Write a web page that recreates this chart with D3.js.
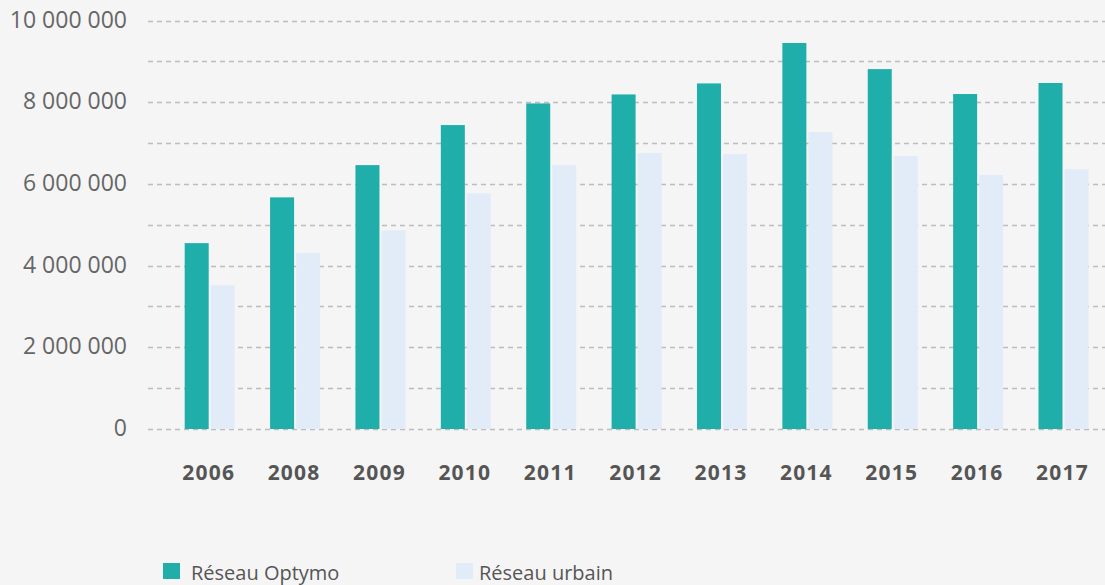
<!DOCTYPE html>
<html lang="fr">
<head>
<meta charset="utf-8">
<script src="https://cdn.jsdelivr.net/npm/d3@7"></script>
<style>
  html, body { margin: 0; padding: 0; background: #f5f5f5; }
  svg { display: block; font-family: "Open Sans", "Noto Sans", sans-serif; }
</style>
</head>
<body>
<svg id="chart" width="1105" height="585"></svg>
<script>
// Annual ridership, in trips
const years = ["2006", "2008", "2009", "2010", "2011", "2012", "2013", "2014", "2015", "2016", "2017"];
const optymo = [4550000, 5670000, 6460000, 7440000, 7970000, 8190000, 8460000, 9450000, 8810000, 8200000, 8470000];
const urbain = [3520000, 4310000, 4860000, 5770000, 6460000, 6760000, 6730000, 7270000, 6680000, 6220000, 6360000];
const seriesNames = ["Réseau Optymo", "Réseau urbain"];
const seriesColors = ["#20aeab", "#e2ecf8"];
const yTicks = [0, 2000000, 4000000, 6000000, 8000000, 10000000];
const yGrid = d3.range(0, 10000001, 1000000);

const svg = d3.select("#chart");

const x = d3.scaleBand().domain(years).range([167, 1106.2]).paddingInner(0).paddingOuter(0);
const y = d3.scaleLinear().domain([0, 10000000]).range([429, 20.5]);
const barW = 24, barGap = 2;

// gridlines
svg.append("g").selectAll("line").data(yGrid).join("line")
  .attr("x1", 148).attr("x2", 1105)
  .attr("y1", d => Math.round(y(d)) + 0.5).attr("y2", d => Math.round(y(d)) + 0.5)
  .attr("stroke", "#bdbdbd").attr("stroke-width", 1.5)
  .attr("stroke-dasharray", "5,4");

// y axis labels
const fmt = d => d3.format(",")(d).replace(/,/g, " ");
svg.append("g").selectAll("text").data(yTicks).join("text")
  .attr("x", 127).attr("y", d => y(d) - 1).attr("dy", "0.35em")
  .attr("text-anchor", "end")
  .attr("font-size", 23).attr("fill", "#666")
  .text(fmt);

// bars
const groups = svg.append("g").selectAll("g").data(years).join("g")
  .attr("transform", d => `translate(${x(d) + x.bandwidth() / 2},0)`);

groups.append("rect")
  .attr("x", -barW - barGap / 2).attr("width", barW)
  .attr("y", (d, i) => y(optymo[i])).attr("height", (d, i) => y(0) - y(optymo[i]))
  .attr("fill", seriesColors[0]);

groups.append("rect")
  .attr("x", barGap / 2).attr("width", barW)
  .attr("y", (d, i) => y(urbain[i])).attr("height", (d, i) => y(0) - y(urbain[i]))
  .attr("fill", seriesColors[1]);

// x axis labels
svg.append("g").selectAll("text").data(years).join("text")
  .attr("x", d => x(d) + x.bandwidth() / 2 - 1).attr("y", 473).attr("dy", "0.35em")
  .attr("text-anchor", "middle")
  .attr("font-size", 21).attr("font-weight", "bold").attr("fill", "#555")
  .attr("letter-spacing", 1.2)
  .text(d => d);

// legend
const legendX = [163, 456];
const legendTextX = [191, 479];
const legend = svg.append("g").selectAll("g").data(seriesNames).join("g");
legend.append("rect")
  .attr("x", (d, i) => legendX[i]).attr("y", 563)
  .attr("width", 17).attr("height", 16)
  .attr("fill", (d, i) => seriesColors[i]);
legend.append("text")
  .attr("x", (d, i) => legendTextX[i]).attr("y", 579.5)
  .attr("font-size", 20).attr("fill", "#555")
  .text(d => d);
</script>
</body>
</html>
